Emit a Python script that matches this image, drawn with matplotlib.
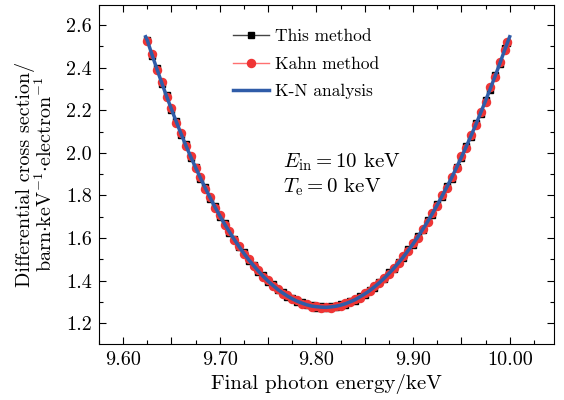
import matplotlib
matplotlib.use('Agg')
import matplotlib.pyplot as plt
from matplotlib.ticker import MultipleLocator, FuncFormatter

plt.rcParams['font.family'] = ['cmr10', 'DejaVu Serif']
plt.rcParams['mathtext.fontset'] = 'cm'
plt.rcParams['axes.formatter.use_mathtext'] = True

#K-N analytic curve
kn_energy = [9.6233, 9.625, 9.630, 9.635, 9.640, 9.645, 9.650, 9.655, 9.660, 9.665,
             9.670, 9.675, 9.680, 9.685, 9.690, 9.695, 9.700, 9.705, 9.710, 9.715,
             9.720, 9.725, 9.730, 9.735, 9.740, 9.745, 9.750, 9.755, 9.760, 9.765,
             9.770, 9.775, 9.780, 9.785, 9.790, 9.795, 9.800, 9.805, 9.810, 9.815,
             9.820, 9.825, 9.830, 9.835, 9.840, 9.845, 9.850, 9.855, 9.860, 9.865,
             9.870, 9.875, 9.880, 9.885, 9.890, 9.895, 9.900, 9.905, 9.910, 9.915,
             9.920, 9.925, 9.930, 9.935, 9.940, 9.945, 9.950, 9.955, 9.960, 9.965,
             9.970, 9.975, 9.980, 9.985, 9.990, 9.995, 10.000]
kn_xsec = [2.545, 2.528, 2.459, 2.393, 2.328, 2.265, 2.205, 2.146, 2.089, 2.034,
           1.981, 1.931, 1.882, 1.835, 1.790, 1.746, 1.705, 1.666, 1.629, 1.593,
           1.560, 1.528, 1.498, 1.471, 1.445, 1.420, 1.398, 1.378, 1.359, 1.343,
           1.328, 1.315, 1.304, 1.295, 1.287, 1.281, 1.278, 1.276, 1.275, 1.277,
           1.280, 1.285, 1.292, 1.301, 1.311, 1.324, 1.338, 1.353, 1.371, 1.390,
           1.411, 1.434, 1.458, 1.484, 1.512, 1.542, 1.573, 1.606, 1.641, 1.677,
           1.715, 1.755, 1.797, 1.840, 1.884, 1.931, 1.979, 2.029, 2.080, 2.133,
           2.188, 2.244, 2.302, 2.361, 2.422, 2.485, 2.545]

#simulated points (This method / Kahn method)
mc_energy = [9.625, 9.630, 9.635, 9.640, 9.645, 9.650, 9.655, 9.660, 9.665,
             9.670, 9.675, 9.680, 9.685, 9.690, 9.695, 9.700, 9.705, 9.710, 9.715,
             9.720, 9.725, 9.730, 9.735, 9.740, 9.745, 9.750, 9.755, 9.760, 9.765,
             9.770, 9.775, 9.780, 9.785, 9.790, 9.795, 9.800, 9.805, 9.810, 9.815,
             9.820, 9.825, 9.830, 9.835, 9.840, 9.845, 9.850, 9.855, 9.860, 9.865,
             9.870, 9.875, 9.880, 9.885, 9.890, 9.895, 9.900, 9.905, 9.910, 9.915,
             9.920, 9.925, 9.930, 9.935, 9.940, 9.945, 9.950, 9.955, 9.960, 9.965,
             9.970, 9.975, 9.980, 9.985, 9.990, 9.995, 9.9975]
kahn_xsec = [2.524, 2.463, 2.388, 2.333, 2.262, 2.209, 2.141, 2.094, 2.031,
             1.986, 1.927, 1.885, 1.831, 1.794, 1.743, 1.709, 1.662, 1.633, 1.590,
             1.564, 1.524, 1.502, 1.468, 1.449, 1.417, 1.402, 1.375, 1.363, 1.340,
             1.331, 1.312, 1.308, 1.292, 1.290, 1.278, 1.281, 1.273, 1.278, 1.274,
             1.283, 1.282, 1.295, 1.298, 1.315, 1.321, 1.342, 1.350, 1.375, 1.387,
             1.415, 1.431, 1.462, 1.481, 1.516, 1.539, 1.577, 1.602, 1.645, 1.674,
             1.719, 1.751, 1.801, 1.836, 1.888, 1.927, 1.983, 2.025, 2.085, 2.129,
             2.192, 2.240, 2.307, 2.357, 2.427, 2.481, 2.520]
this_xsec = [2.531, 2.455, 2.398, 2.322, 2.270, 2.199, 2.151, 2.085, 2.040,
             1.976, 1.936, 1.877, 1.841, 1.785, 1.752, 1.700, 1.671, 1.624, 1.598,
             1.556, 1.533, 1.494, 1.476, 1.441, 1.425, 1.394, 1.383, 1.355, 1.347,
             1.324, 1.319, 1.300, 1.299, 1.284, 1.285, 1.274, 1.279, 1.272, 1.281,
             1.277, 1.289, 1.288, 1.305, 1.307, 1.328, 1.334, 1.358, 1.367, 1.395,
             1.407, 1.439, 1.453, 1.489, 1.507, 1.547, 1.568, 1.611, 1.636, 1.683,
             1.710, 1.760, 1.792, 1.846, 1.879, 1.936, 1.974, 2.034, 2.075, 2.139,
             2.183, 2.250, 2.297, 2.367, 2.416, 2.490, 2.514]

fig = plt.figure(figsize=(5.64, 4.0), dpi=100)
ax = fig.add_axes([0.1755, 0.14, 0.807, 0.8475])

ax.plot(mc_energy, this_xsec, color='#444444', lw=1.0, marker='s', ms=4.5,
        mfc='black', mec='black', label='This method')
ax.plot(mc_energy, kahn_xsec, color='#ff7070', lw=1.0, marker='o', ms=5.8,
        mfc='#ef3535', mec='#ef3535', label='Kahn method')
ax.plot(kn_energy, kn_xsec, color='#2f5ca8', lw=2.5, label='K-N analysis')

ax.set_xlim(9.575, 10.046)
ax.set_ylim(1.103, 2.694)
ax.xaxis.set_major_locator(MultipleLocator(0.05))
ax.xaxis.set_minor_locator(MultipleLocator(0.025))
ax.xaxis.set_major_formatter(FuncFormatter(
    lambda v, p: '%.2f' % v if abs(v * 10 - round(v * 10)) < 1e-6 else ''))
ax.yaxis.set_major_locator(MultipleLocator(0.2))
ax.yaxis.set_minor_locator(MultipleLocator(0.1))
ax.yaxis.set_major_formatter(FuncFormatter(lambda v, p: '%.1f' % v))
ax.tick_params(which='both', direction='in', top=True, right=True, labelsize=14.5)
ax.tick_params(which='major', length=5, width=0.8, pad=5)
ax.tick_params(which='minor', length=3, width=0.8)

ax.set_xlabel('Final photon energy/keV', fontsize=15, labelpad=4)
ax.set_ylabel('Differential cross section/\n'
              r'barn$\cdot$keV$^{-1}$$\cdot$electron$^{-1}$',
              fontsize=14.5, labelpad=7, linespacing=1.0)

ax.text(0.404, 0.537, r'$E_{\rm in}=10$ keV', transform=ax.transAxes,
        fontsize=15, va='center')
ax.text(0.404, 0.463, r'$T_{\rm e}=0$ keV', transform=ax.transAxes,
        fontsize=15, va='center')

ax.legend(loc='upper left', bbox_to_anchor=(0.26, 0.975), frameon=False,
          fontsize=12.5, handlelength=2.1, handletextpad=0.3, labelspacing=0.7)

fig.savefig('out.png', dpi=100)
